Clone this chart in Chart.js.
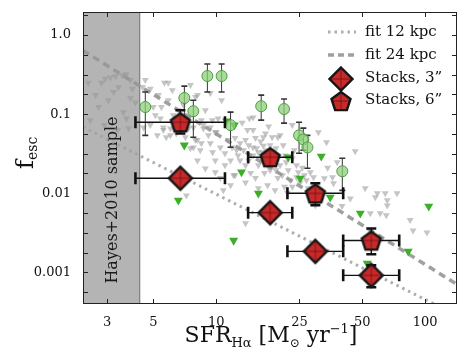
<!DOCTYPE html>
<html>
<head>
<meta charset="utf-8">
<script src="https://cdn.jsdelivr.net/npm/chart.js@4.4.1/dist/chart.umd.min.js"></script>
<style>
html, body { margin: 0; padding: 0; background: #fff; }
#wrap { width: 469px; height: 361px; }
</style>
</head>
<body>
<div id="wrap"><canvas id="fescChart"></canvas></div>
<script>
// individual galaxies, upper limits [SFR, fesc]
const greyLimits = [
    [2.44,0.25],[2.64,0.174],[2.82,0.25],[2.94,0.28],[3.11,0.29],[3.29,0.30],[3.40,0.22],[3.55,0.31],[3.71,0.32],[3.88,0.27],
    [2.73,0.123],[3.04,0.15],[3.22,0.19],[3.59,0.106],[3.71,0.088],[3.88,0.16],[4.10,0.14],[3.96,0.21],[2.49,0.084],[2.91,0.073],[3.37,0.063],[3.80,0.066],
    [4.43,0.22],[4.57,0.27],[4.83,0.21],[4.99,0.123],[5.28,0.174],[5.46,0.123],[5.64,0.25],[5.89,0.25],[6.16,0.20],
    [4.48,0.068],[4.83,0.073],[5.11,0.097],[5.40,0.088],[5.58,0.068],[5.89,0.15],[6.23,0.097],[5.76,0.051],[6.43,0.057],
    [6.58,0.112],[6.96,0.13],[7.35,0.088],[7.52,0.233],[7.94,0.165],[8.12,0.174],[7.11,0.051],[7.77,0.068],[8.11,0.047],
    [8.48,0.084],[8.67,0.066],[8.86,0.112],[9.16,0.054],[9.36,0.185],[9.57,0.084],[9.89,0.059],[6.73,0.073],[6.03,0.066],[7.35,0.066],[5.22,0.054],
    [8.67,0.073],[9.36,0.068],[10.0,0.059],[10.45,0.038],[11.0,0.032],[11.9,0.038],[13.0,0.043],[9.6,0.033],[9.36,0.043],[9.89,0.026],
    [10.2,0.088],[10.6,0.15],[11.7,0.026],[12.3,0.050],[13.3,0.078],[14.1,0.063],[14.4,0.088],[15.0,0.063],[15.4,0.050],[16.8,0.051],
    [17.2,0.057],[17.8,0.070],[18.5,0.051],[19.7,0.051],[20.2,0.054],[23.1,0.073],[13.5,0.035],[14.3,0.0405],[15.0,0.030],[15.6,0.037],
    [16.3,0.045],[16.7,0.026],[15.9,0.0226],[17.4,0.035],[18.1,0.0196],[18.9,0.026],[19.3,0.037],[20.2,0.0226],[20.7,0.0169],[21.4,0.030],
    [22.1,0.0196],[22.6,0.0146],[21.2,0.0121],[17.6,0.0126],[19.7,0.0156],[13.8,0.0226],[14.6,0.0181],[13.0,0.026],[12.3,0.0169],[9.89,0.0185],
    [11.0,0.0226],[12.1,0.0169],[24.2,0.0226],[23.6,0.035],[24.7,0.0185],[25.8,0.021],[27.0,0.0146],[28.2,0.0185],[29.2,0.016],[27.5,0.0116],
    [30.1,0.0126],[31.5,0.0109],[32.9,0.0155],[30.8,0.059],[33.7,0.044],[36.0,0.016],[36.4,0.0134],[37.9,0.0247],[34.1,0.021],[32.2,0.0094],
    [29.8,0.0070],[13.8,0.0042],
    [13.8,0.047],[15.0,0.038],[15.9,0.033],[16.8,0.040],[17.8,0.030],[18.5,0.024],[19.3,0.0196],[17.0,0.0181],[15.4,0.0156],[21.6,0.0247],
    [23.1,0.0276],[20.9,0.0405],[18.1,0.0405],[16.7,0.033],[14.3,0.026],[12.7,0.030],[11.4,0.047],[12.5,0.035],[23.1,0.0121],[25.2,0.0137],
    [26.4,0.0169],[24.2,0.016],[21.9,0.0102],[19.1,0.0109],[15.9,0.0116],[13.8,0.0137],[11.7,0.0126],[10.8,0.0109],[10.45,0.0156],[8.86,0.0206],
    [8.12,0.026],[7.52,0.037],[6.96,0.0405],[8.38,0.035],[7.94,0.047],[5.58,0.063],[6.03,0.054],[7.77,0.038],[8.48,0.043],[7.19,0.0094],
    [15.0,0.091],
    [46.2,0.034],[40.0,0.0069],[43.8,0.0086],[51.6,0.0116],[57.7,0.0089],[59.0,0.0100],[64.4,0.0100],[73.3,0.0100],[65.8,0.0082],[54.6,0.0056],
    [60.9,0.0056],[65.1,0.0053],[65.8,0.0070],[84.7,0.0046],[87.5,0.0034],[102,0.0032]
];

// green upper limits
const greenLimits = [
    [7.03,0.0405],[11.2,0.0815],[12.2,0.0726],[6.58,0.00815],[12.1,0.00254],[13.2,0.0185],[15.9,0.0100],[22.1,0.0286],
    [25.2,0.0155],[31.8,0.0294],[35.1,0.0089],[48.9,0.0056],[82.9,0.00185],[104,0.00685],[52.8,0.0013]
];

// green detections with errors
const detSfr  = [4.57, 7.03, 7.76, 9.06, 10.6, 11.7, 16.4, 21.1, 24.9, 26.1, 27.3, 40.1];
const detFesc = [0.123, 0.160, 0.109, 0.303, 0.303, 0.0726, 0.126, 0.116, 0.054, 0.048, 0.038, 0.019];
const detLo   = [0.054, 0.0705, 0.051, 0.190, 0.190, 0.0382, 0.084, 0.077, 0.032, 0.035, 0.0207, 0.0109];
const detHi   = [0.19, 0.226, 0.150, 0.430, 0.430, 0.106, 0.174, 0.155, 0.079, 0.0665, 0.054, 0.0277];

// stacks
const stackSfr   = [6.73, 18.1, 29.8, 55.2];
const stackSfrLo = [4.10, 14.2, 21.9, 40.5];
const stackSfrHi = [11.0, 23.1, 40.5, 75.1];
const stack3Fesc   = [0.0155, 0.0057, 0.00185, 0.00092];
const stack3FescLo = [null, null, null, 0.00065];
const stack3FescHi = [null, null, null, 0.00123];
const stack6Fesc   = [0.079, 0.0286, 0.0100, 0.00254];
const stack6FescLo = [0.057, null, 0.0071, 0.0017];
const stack6FescHi = [0.112, null, 0.0134, 0.0036];

// fits
const fitSfr   = [2.3, 142];
const fit12Fesc = [0.0687, 0.000286];
const fit24Fesc = [0.636, 0.000707];

const hayesLimit = 4.3;
const xTicks = [3, 5, 10, 25, 50, 100];
const yTicks = [0.001, 0.01, 0.1, 1];
const yMinorTicks = [0.00056, 0.001, 0.00178, 0.00316, 0.00562, 0.01, 0.0178, 0.0316, 0.0562, 0.1, 0.178, 0.316, 0.562, 1, 1.78];

const serif = "'DejaVu Serif', serif";

function markerPath(g, kind, m) {
    g.beginPath();
    if (kind === "diamond") {
        const r = 11.5;
        g.moveTo(m, m - r); g.lineTo(m + r, m); g.lineTo(m, m + r); g.lineTo(m - r, m);
    } else {
        const r = 10;
        for (let i = 0; i < 5; i++) {
            const a = -Math.PI / 2 + i * 2 * Math.PI / 5;
            g.lineTo(m + r * Math.cos(a), m + 1 + r * Math.sin(a));
        }
    }
    g.closePath();
}

function makeMarker(kind) {
    const c = document.createElement("canvas");
    const s = 28;
    c.width = s; c.height = s;
    const g = c.getContext("2d");
    const m = s / 2;
    markerPath(g, kind, m);
    g.fillStyle = "#c62a2a";
    g.fill();
    g.save();
    g.clip();
    g.strokeStyle = "rgba(110,10,10,0.7)";
    g.lineWidth = 1;
    g.beginPath();
    g.moveTo(0, m); g.lineTo(s, m); g.moveTo(m, 0); g.lineTo(m, s);
    g.stroke();
    g.restore();
    markerPath(g, kind, m);
    g.lineJoin = "miter";
    g.lineWidth = 2.4;
    g.strokeStyle = "#151515";
    g.stroke();
    return c;
}

const diamondImg = makeMarker("diamond");
const pentagonImg = makeMarker("pentagon");

const pts = arr => arr.map(p => ({ x: p[0], y: p[1] }));
const zip = (xs, ys) => xs.map((v, i) => ({ x: v, y: ys[i] }));

function drawXErr(ctx, y, lo, hi, cap, w) {
    ctx.beginPath();
    ctx.moveTo(lo, y); ctx.lineTo(hi, y);
    ctx.stroke();
    ctx.save();
    ctx.lineWidth = w;
    ctx.beginPath();
    ctx.moveTo(lo, y - cap); ctx.lineTo(lo, y + cap);
    ctx.moveTo(hi, y - cap); ctx.lineTo(hi, y + cap);
    ctx.stroke();
    ctx.restore();
}

function drawYErr(ctx, x, lo, hi, cap, w) {
    ctx.beginPath();
    ctx.moveTo(x, lo); ctx.lineTo(x, hi);
    ctx.stroke();
    ctx.save();
    ctx.lineWidth = w;
    ctx.beginPath();
    ctx.moveTo(x - cap, lo); ctx.lineTo(x + cap, lo);
    ctx.moveTo(x - cap, hi); ctx.lineTo(x + cap, hi);
    ctx.stroke();
    ctx.restore();
}

const errorBars = {
    id: "errorBars",
    beforeDatasetsDraw(chart) {
        const { ctx, chartArea: a, scales: { x } } = chart;
        const edge = x.getPixelForValue(hayesLimit);
        ctx.save();
        ctx.fillStyle = "#b4b4b4";
        ctx.fillRect(a.left, a.top, edge - a.left, a.bottom - a.top);
        ctx.strokeStyle = "#6e6e6e";
        ctx.lineWidth = 1;
        ctx.beginPath();
        ctx.moveTo(edge, a.top); ctx.lineTo(edge, a.bottom);
        ctx.stroke();
        ctx.translate((a.left + edge) / 2 + 6, 200);
        ctx.rotate(-Math.PI / 2);
        ctx.fillStyle = "#1a1a1a";
        ctx.font = "16px " + serif;
        ctx.textAlign = "center";
        ctx.textBaseline = "alphabetic";
        ctx.fillText("Hayes+2010 sample", 0, 0);
        ctx.restore();
    },
    beforeDatasetDraw(chart, args) {
        const { ctx, scales: { x, y } } = chart;
        ctx.save();
        if (args.index === 2) {
            ctx.strokeStyle = "#333";
            ctx.lineWidth = 1;
            detSfr.forEach((s, i) => {
                drawYErr(ctx, x.getPixelForValue(s), y.getPixelForValue(detLo[i]), y.getPixelForValue(detHi[i]), 3, 1.6);
            });
        }
        if (args.index === 0 || args.index === 1) {
            const fesc = args.index === 1 ? stack3Fesc : stack6Fesc;
            const lo = args.index === 1 ? stack3FescLo : stack6FescLo;
            const hi = args.index === 1 ? stack3FescHi : stack6FescHi;
            ctx.strokeStyle = "#111";
            ctx.lineWidth = 1.4;
            stackSfr.forEach((s, i) => {
                const py = y.getPixelForValue(fesc[i]);
                drawXErr(ctx, py, x.getPixelForValue(stackSfrLo[i]), x.getPixelForValue(stackSfrHi[i]), 6, 2.6);
                if (lo[i] !== null) {
                    drawYErr(ctx, x.getPixelForValue(s), y.getPixelForValue(lo[i]), y.getPixelForValue(hi[i]), 5, 2.6);
                }
            });
        }
        ctx.restore();
    }
};

const frame = {
    id: "frame",
    afterDatasetsDraw(chart) {
        const { ctx, chartArea: a, scales: { x, y } } = chart;
        ctx.save();
        ctx.strokeStyle = "#222";
        ctx.lineWidth = 1;
        ctx.strokeRect(a.left + 0.5, a.top + 0.5, a.right - a.left - 1, a.bottom - a.top - 1);
        ctx.beginPath();
        xTicks.forEach(v => {
            const px = Math.round(x.getPixelForValue(v)) + 0.5;
            ctx.moveTo(px, a.bottom); ctx.lineTo(px, a.bottom - 5);
            ctx.moveTo(px, a.top); ctx.lineTo(px, a.top + 5);
        });
        yMinorTicks.forEach(v => {
            const py = Math.round(y.getPixelForValue(v)) + 0.5;
            if (py < a.top || py > a.bottom) return;
            ctx.moveTo(a.left, py); ctx.lineTo(a.left + 5, py);
            ctx.moveTo(a.right, py); ctx.lineTo(a.right - 5, py);
        });
        ctx.stroke();
        ctx.restore();
    },
    afterDraw(chart) {
        const { ctx } = chart;
        ctx.save();
        ctx.fillStyle = "#111";
        ctx.textBaseline = "alphabetic";

        // x title
        const parts = [
            ["SFR", 22, 0], ["H\u03b1", 13, 5], [" [M", 22, 0], ["\u2299", 12, 5],
            [" yr", 22, 0], ["\u22121", 13, -9], ["]", 22, 0]
        ];
        let total = 0;
        parts.forEach(p => { ctx.font = p[1] + "px " + serif; total += ctx.measureText(p[0]).width; });
        let cx = 271 - total / 2;
        parts.forEach(p => {
            ctx.font = p[1] + "px " + serif;
            ctx.fillText(p[0], cx, 342 + p[2]);
            cx += ctx.measureText(p[0]).width;
        });

        // y title
        ctx.save();
        ctx.translate(33, 153);
        ctx.rotate(-Math.PI / 2);
        ctx.font = "25px " + serif;
        const wf = ctx.measureText("f").width;
        ctx.font = "14px " + serif;
        const we = ctx.measureText("esc").width;
        ctx.font = "25px " + serif;
        ctx.fillText("f", -(wf + we) / 2, 0);
        ctx.font = "14px " + serif;
        ctx.fillText("esc", -(wf + we) / 2 + wf, 4);
        ctx.restore();

        // legend
        ctx.font = "15px " + serif;
        ctx.textBaseline = "middle";
        ctx.lineCap = "butt";
        ctx.strokeStyle = "rgba(160,160,160,0.85)";
        ctx.lineWidth = 3;
        ctx.setLineDash([2.5, 4]);
        ctx.beginPath(); ctx.moveTo(328, 32); ctx.lineTo(356, 32); ctx.stroke();
        ctx.strokeStyle = "rgba(150,150,150,0.9)";
        ctx.lineWidth = 3.5;
        ctx.setLineDash([6, 4]);
        ctx.beginPath(); ctx.moveTo(328, 55); ctx.lineTo(356, 55); ctx.stroke();
        ctx.setLineDash([]);
        ctx.drawImage(diamondImg, 341 - 14, 79 - 14);
        ctx.drawImage(pentagonImg, 341 - 14, 101 - 14);
        ctx.fillStyle = "#111";
        ctx.fillText("fit 12 kpc", 365, 32);
        ctx.fillText("fit 24 kpc", 365, 55);
        ctx.fillText("Stacks, 3\u201d", 365, 78);
        ctx.fillText("Stacks, 6\u201d", 365, 100);
        ctx.restore();
    }
};

const fescCtx = document.getElementById("fescChart");

new Chart(fescCtx, {
    type: "scatter",
    data: {
        datasets: [
            {
                label: "Stacks, 6\u201d",
                data: zip(stackSfr, stack6Fesc),
                pointStyle: pentagonImg
            },
            {
                label: "Stacks, 3\u201d",
                data: zip(stackSfr, stack3Fesc),
                pointStyle: diamondImg
            },
            {
                label: "detections",
                data: zip(detSfr, detFesc),
                pointStyle: "circle",
                pointRadius: 5.5,
                backgroundColor: "rgba(140,208,120,0.75)",
                borderColor: "#4f9a46",
                borderWidth: 1
            },
            {
                label: "green limits",
                data: pts(greenLimits),
                pointStyle: "triangle",
                rotation: 180,
                pointRadius: 5.2,
                backgroundColor: "#3cae2a",
                borderWidth: 0
            },
            {
                type: "line",
                label: "fit 12 kpc",
                data: zip(fitSfr, fit12Fesc),
                borderColor: "rgba(160,160,160,0.85)",
                borderWidth: 3,
                borderDash: [2.5, 4],
                pointRadius: 0
            },
            {
                type: "line",
                label: "fit 24 kpc",
                data: zip(fitSfr, fit24Fesc),
                borderColor: "rgba(150,150,150,0.9)",
                borderWidth: 3.5,
                borderDash: [7, 5],
                pointRadius: 0
            },
            {
                label: "limits",
                data: pts(greyLimits),
                pointStyle: "triangle",
                rotation: 180,
                pointRadius: 4,
                backgroundColor: "rgba(150,150,150,0.55)",
                borderWidth: 0
            }
        ]
    },
    options: {
        responsive: true,
        maintainAspectRatio: false,
        animation: false,
        layout: { padding: { top: 12, right: 12, left: 0, bottom: 0 } },
        plugins: { legend: { display: false }, tooltip: { enabled: false } },
        scales: {
            x: {
                type: "logarithmic",
                min: 2.3,
                max: 142,
                grid: { display: false },
                border: { display: false },
                afterBuildTicks: s => { s.ticks = xTicks.map(v => ({ value: v })); },
                afterFit: s => { s.height = 57; },
                ticks: {
                    font: { family: serif, size: 13 },
                    color: "#111",
                    padding: 3,
                    maxRotation: 0,
                    autoSkip: false,
                    callback: v => String(v)
                }
            },
            y: {
                type: "logarithmic",
                min: 0.0004,
                max: 1.95,
                grid: { display: false },
                border: { display: false },
                afterBuildTicks: s => { s.ticks = yTicks.map(v => ({ value: v })); },
                afterFit: s => { s.width = 83; },
                ticks: {
                    font: { family: serif, size: 13 },
                    color: "#111",
                    padding: 4,
                    autoSkip: false,
                    callback: v => (v === 1 ? "1.0" : String(v))
                }
            }
        }
    },
    plugins: [errorBars, frame]
});
</script>
</body>
</html>
